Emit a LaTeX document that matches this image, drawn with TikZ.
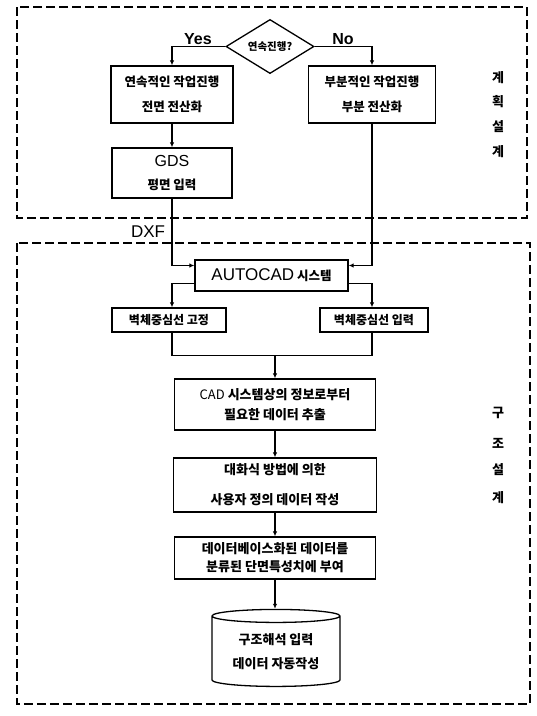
\documentclass[tikz,border=0pt]{standalone}
\usepackage{fontspec}
\setmainfont{Liberation Sans}
\newfontfamily\kr{Noto Sans CJK KR}
\usetikzlibrary{shapes.geometric,arrows.meta}
\begin{document}
\begin{tikzpicture}[x=1pt,y=-1pt,
  box/.style={draw, line width=1.3pt, rectangle, align=center, inner sep=0pt,
    font=\kr\bfseries\fontsize{12.5}{15}\selectfont},
  arr/.style={line width=1.1pt, -{Latex[length=5pt,width=4.5pt]}},
  ln/.style={line width=1.1pt},
  zone/.style={dash pattern=on 9pt off 4pt, line width=1.6pt},
  side/.style={font=\kr\bfseries\fontsize{13}{13}\selectfont, inner sep=0pt},
  lab/.style={font=\fontsize{16}{16}\selectfont\bfseries, inner sep=0pt}
]
\useasboundingbox (0,0) rectangle (537,716);
% zones
\draw[zone] (17,7) rectangle (527,218);
\draw[zone] (17,243) rectangle (530,704);
% side labels
\node[side] (s1) at (498,78) {계};
\node[side] (s2) at (498,102) {획};
\node[side] (s3) at (498,127) {설};
\node[side] (s4) at (498,152) {계};
\node[side] (t1) at (498,413) {구};
\node[side] (t2) at (498,443) {조};
\node[side] (t3) at (498,470) {설};
\node[side] (t4) at (498,498) {계};
% decision
\node[diamond, draw, line width=1.3pt, inner sep=0pt, minimum width=88, minimum height=47,
  font=\kr\bfseries\fontsize{10.5}{10.5}\selectfont] (D) at (270,46.5) {연속진행?};
\node[lab, anchor=base] (yes) at (198,44) {Yes};
\node[lab, anchor=base] (no) at (343,44) {No};
% boxes
\node[box, minimum width=122, minimum height=57] (L1) at (172,94.5) {연속적인 작업진행\\[10pt]전면 전산화};
\node[box, minimum width=127, minimum height=57] (R1) at (372,94.5) {부분적인 작업진행\\[10pt]부분 전산화};
\node[box, minimum width=120, minimum height=50] (GDS) at (172,173) {{\fontspec{Liberation Sans}\mdseries\fontsize{16}{16}\selectfont GDS}\\[8pt]평면 입력};
\node[font=\fontsize{17}{17}\selectfont, inner sep=0pt] (dxf) at (148,232) {DXF};
\node[box, minimum width=153, minimum height=31] (AUTO) at (271.5,275.5) {{\fontspec{Liberation Sans}\mdseries\fontsize{17}{17}\selectfont AUTOCAD} 시스템};
\node[box, minimum width=114, minimum height=24, font=\kr\bfseries\fontsize{12}{14}\selectfont] (WL) at (169,320) {벽체중심선 고정};
\node[box, minimum width=108, minimum height=24, font=\kr\bfseries\fontsize{12}{14}\selectfont] (WR) at (374,320) {벽체중심선 입력};
\node[box, minimum width=201, minimum height=51, font=\kr\bfseries\fontsize{13}{15}\selectfont] (CAD) at (275,404.5) {{\mdseries CAD} 시스템상의 정보로부터\\[5pt]필요한 데이터 추출};
\node[box, minimum width=203, minimum height=54, font=\kr\bfseries\fontsize{13}{15}\selectfont] (DI) at (275,485) {대화식 방법에 의한\\[15pt]사용자 정의 데이터 작성};
\node[box, minimum width=201, minimum height=42, font=\kr\bfseries\fontsize{13}{15}\selectfont] (DB) at (275,558) {데이터베이스화된 데이터를\\[3pt]분류된 단면특성치에 부여};
\node[cylinder, shape border rotate=90, aspect=0.15, draw, line width=1.3pt, align=center,
  minimum width=128, minimum height=77, inner sep=0pt, font=\kr\bfseries\fontsize{13}{15}\selectfont] (CY) at (276,651.5) {구조해석 입력\\[9pt]데이터 자동작성};
% connectors
\draw[arr] (D.west) -| (L1.north);
\draw[arr] (D.east) -| (R1.north);
\draw[arr] (L1.south) -- (GDS.north);
\draw[arr] (GDS.south) |- ([yshift=10pt]AUTO.west);
\draw[arr] (R1.south) |- ([yshift=10pt]AUTO.east);
\draw[arr] ([yshift=-8pt]AUTO.west) -| ([xshift=3pt]WL.north);
\draw[arr] ([yshift=-8pt]AUTO.east) -| ([xshift=-2pt]WR.north);
\path (CAD.north) ++(0,-23) coordinate (J);
\draw[ln] ([xshift=3pt]WL.south) |- (J) -| ([xshift=-2pt]WR.south);
\draw[arr] (J) -- (CAD.north);
\draw[arr] (CAD.south) -- (DI.north);
\draw[arr] (DI.south) -- (DB.north);
\draw[arr] (DB.south) -- (DB.south |- CY.north);
\end{tikzpicture}
\end{document}
